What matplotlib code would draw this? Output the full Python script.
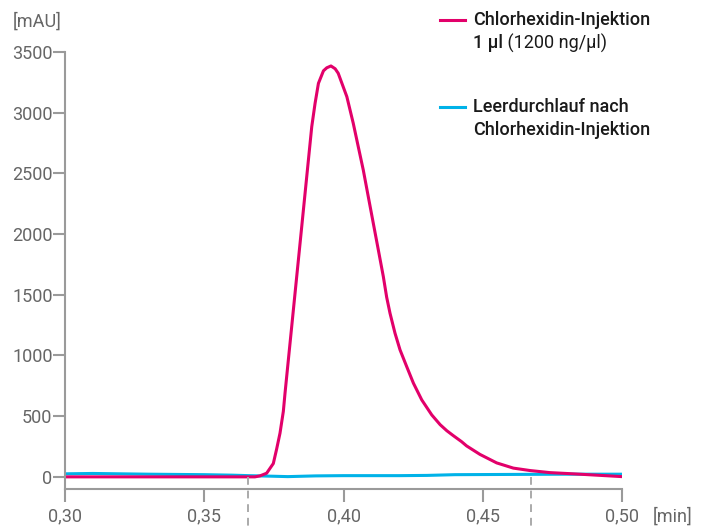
import matplotlib
matplotlib.use("Agg")
import matplotlib.pyplot as plt

plt.rcParams['font.family'] = ['Roboto', 'DejaVu Sans']

# chromatogram values (time in min, signal in mAU)
inj_t = [0.300, 0.340, 0.3660, 0.3682, 0.3700, 0.3724, 0.3748, 0.3760, 0.3772, 0.3784,
         0.3790, 0.3802, 0.3814, 0.3826, 0.3838, 0.3850, 0.3862, 0.3874, 0.3886, 0.3898,
         0.3910, 0.3928, 0.3940, 0.3955, 0.3970, 0.3981, 0.4012, 0.4035, 0.4053, 0.4071,
         0.4089, 0.4107, 0.4125, 0.4143, 0.4155, 0.4167, 0.4185, 0.4203, 0.4227, 0.4251,
         0.4281, 0.4317, 0.4347, 0.4371, 0.4394, 0.4424, 0.4442, 0.4490, 0.4550, 0.4610,
         0.4670, 0.4741, 0.4825, 0.4909, 0.5000]
inj_mau = [0, 0, 0, 0, 8, 30, 110, 230, 360, 540,
           689, 964, 1238, 1513, 1787, 2061, 2336, 2611, 2885, 3078,
           3242, 3345, 3370, 3385, 3362, 3325, 3132, 2913, 2720, 2528,
           2308, 2089, 1870, 1650, 1480, 1348, 1183, 1046, 908, 772,
           634, 510, 430, 380, 340, 290, 255, 185, 115, 72,
           52, 35, 25, 14, 2]

blank_t = [0.300, 0.310, 0.330, 0.350, 0.360, 0.366, 0.375, 0.380, 0.385, 0.390,
           0.400, 0.420, 0.430, 0.440, 0.460, 0.480, 0.500]
blank_mau = [25, 28, 22, 18, 14, 10, 5, 2, 5, 8,
             10, 10, 12, 18, 20, 22, 22]

x_ticks = [0.30, 0.35, 0.40, 0.45, 0.50]
x_labels = ['0,30', '0,35', '0,40', '0,45', '0,50']
y_ticks = [0, 500, 1000, 1500, 2000, 2500, 3000, 3500]
peak_marks = [0.3658, 0.4675]

red = '#e2006a'
blue = '#00b2e8'
grey = '#9a9a9a'
txt_grey = '#666666'
fs = 13

fig = plt.figure(figsize=(7.06, 5.27), dpi=100)
ax = fig.add_axes([65 / 706, 38 / 527, 557 / 706, 437 / 527])

ax.plot(blank_t, blank_mau, color=blue, lw=2.2)
ax.plot(inj_t, inj_mau, color=red, lw=2.2, solid_joinstyle='round')

for xm in peak_marks:
    ax.plot([xm, xm], [0, -420], color='#aaaaaa', lw=1.4, ls=(0, (4, 3)), clip_on=False)

ax.set_xlim(0.30, 0.50)
ax.set_ylim(-100, 3500)
ax.set_xticks(x_ticks)
ax.set_xticklabels(x_labels)
ax.set_yticks(y_ticks)

for side in ['top', 'right']:
    ax.spines[side].set_visible(False)
for side in ['left', 'bottom']:
    ax.spines[side].set_color(grey)
    ax.spines[side].set_linewidth(1.5)
ax.tick_params(axis='both', colors=grey, width=1.5, length=9, labelcolor=txt_grey,
               labelsize=fs)
ax.tick_params(axis='y', pad=0)
ax.tick_params(axis='x', pad=4)

fig.text(13 / 706, 1 - 22 / 527, '[mAU]', color=txt_grey, fontsize=fs, va='center', ha='left')
fig.text(673 / 706, 1 - 517 / 527, '[min]', color=txt_grey, fontsize=fs, va='center', ha='center')

# legend drawn by hand
def leg_line(y, color):
    fig.add_artist(plt.Line2D([440 / 706, 465 / 706], [1 - y / 527, 1 - y / 527],
                              color=color, lw=2.2))

dark = '#1a1a1a'
leg_line(20, red)
fig.text(473 / 706, 1 - 20 / 527, 'Chlorhexidin-Injektion', fontsize=fs, fontweight='medium',
         color=dark, va='center')
t1 = fig.text(473 / 706, 1 - 43 / 527, '1 µl', fontsize=fs, fontweight='medium',
              color=dark, va='center')
ax.annotate(' (1200 ng/µl)', xy=(1, 0.5), xycoords=t1, va='center', ha='left',
            fontsize=fs, color=dark, annotation_clip=False)

leg_line(107, blue)
fig.text(473 / 706, 1 - 107 / 527, 'Leerdurchlauf nach', fontsize=fs, fontweight='medium',
         color=dark, va='center')
fig.text(473 / 706, 1 - 130 / 527, 'Chlorhexidin-Injektion', fontsize=fs, fontweight='medium',
         color=dark, va='center')

fig.savefig('out.png', dpi=100)
